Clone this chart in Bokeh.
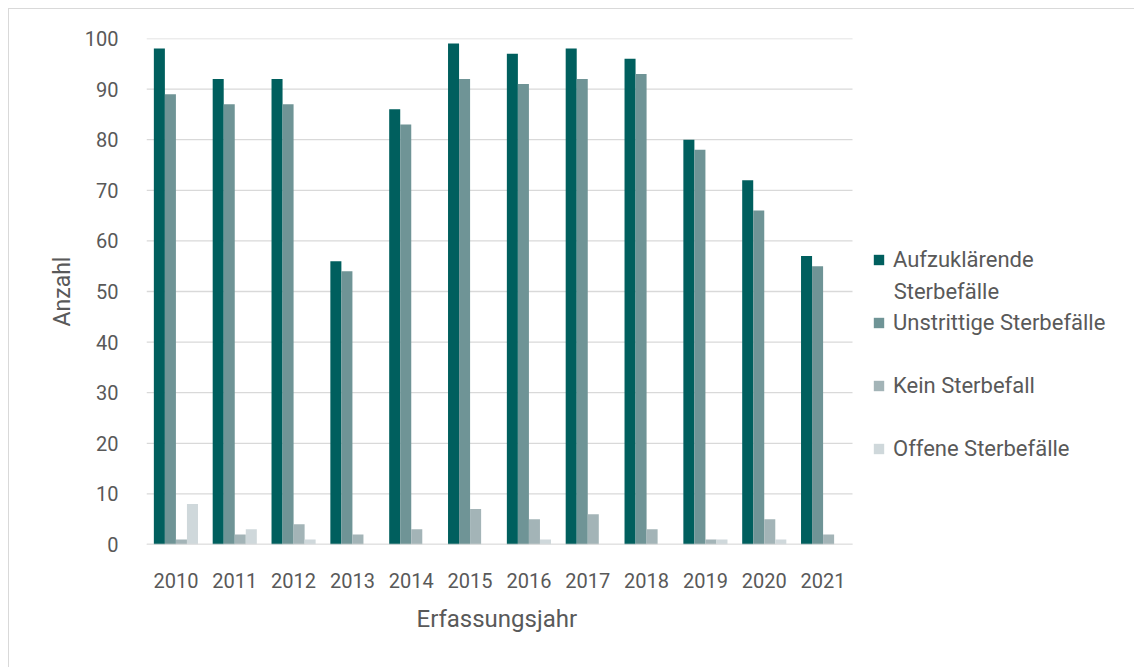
from bokeh.plotting import figure
from bokeh.models import ColumnDataSource, Range1d, Legend, LegendItem, Label, InlineStyleSheet, FixedTicker, Title
from bokeh.transform import dodge
from bokeh.embed import file_html
from bokeh.resources import INLINE

years = ["2010", "2011", "2012", "2013", "2014", "2015", "2016", "2017", "2018", "2019", "2020", "2021"]
aufzuklaerende = [98, 92, 92, 56, 86, 99, 97, 98, 96, 80, 72, 57]
unstrittige = [89, 87, 87, 54, 83, 92, 91, 92, 93, 78, 66, 55]
kein = [1, 2, 4, 2, 3, 7, 5, 6, 3, 1, 5, 2]
offene = [8, 3, 1, 0, 0, 0, 1, 0, 0, 1, 1, 0]
series_labels = ["Aufzuklärende Sterbefälle", "Unstrittige Sterbefälle", "Kein Sterbefall", "Offene Sterbefälle"]
colors = ["#005F5E", "#6F9496", "#A3B4B7", "#CFD8DB"]
yticks = list(range(0, 101, 10))

FONT = "Roboto"
TXT = "#595959"
GRID = "#d9d9d9"

n = len(years)
centers = [i + 0.5 for i in range(n)]
source = ColumnDataSource(data=dict(xc=centers, a=aufzuklaerende, u=unstrittige, k=kein, o=offene))

p = figure(x_range=Range1d(0, 16.81), y_range=Range1d(0, 100),
           width=1126, height=659, output_backend="svg", toolbar_location=None,
           min_border_left=137, min_border_right=0, min_border_top=29, min_border_bottom=124)
p.stylesheets = [InlineStyleSheet(css=":host { margin-left: 8px; margin-top: 8px; border-left: 1px solid #d9d9d9; border-top: 1px solid #d9d9d9; }")]
p.outline_line_color = None
p.background_fill_color = "white"
p.border_fill_color = "white"

# gridlines only across the category area
p.xgrid.grid_line_color = None
p.ygrid.grid_line_color = None
p.segment(x0=[0] * len(yticks), x1=[n] * len(yticks), y0=yticks, y1=yticks,
          line_color=GRID, line_width=1.3)

bw = 0.1875
offs = [-1.5 * bw, -0.5 * bw, 0.5 * bw, 1.5 * bw]
renderers = []
for col, off, c in zip(["a", "u", "k", "o"], offs, colors):
    r = p.vbar(x=dodge("xc", off), top=col, width=bw, source=source,
               fill_color=c, line_color=None)
    renderers.append(r)

p.segment(x0=[0], x1=[n], y0=[0], y1=[0], line_color=GRID, line_width=1.6)

p.xaxis.ticker = FixedTicker(ticks=centers)
p.xaxis.major_label_overrides = {c: y for c, y in zip(centers, years)}
p.yaxis.ticker = FixedTicker(ticks=yticks)

for ax in (p.xaxis[0], p.yaxis[0]):
    ax.axis_line_color = None
    ax.major_tick_line_color = None
    ax.minor_tick_line_color = None
    ax.major_label_text_font = FONT
    ax.major_label_text_font_size = "20px"
    ax.major_label_text_color = TXT
    ax.axis_label_text_font = FONT
    ax.axis_label_text_font_size = "23px"
    ax.axis_label_text_color = TXT
    ax.axis_label_text_font_style = "normal"

p.yaxis.major_label_standoff = 22
p.yaxis.axis_label = "Anzahl"
p.yaxis.axis_label_standoff = 6
p.xaxis.major_label_standoff = 22

xtitle = Title(text="Erfassungsjahr", align="left", offset=270, standoff=25,
               text_font=FONT, text_font_size="24px", text_color=TXT, text_font_style="normal")
p.add_layout(xtitle, "below")

items = [LegendItem(label="Aufzuklärende", renderers=[renderers[0]])]
for lab, r in zip(series_labels[1:], renderers[1:]):
    items.append(LegendItem(label=lab, renderers=[r]))
legend = Legend(items=items, location=(726, 83), orientation="vertical",
                padding=0, margin=0, spacing=37, label_height=26,
                glyph_width=13, glyph_height=13, label_standoff=8,
                border_line_color=None, background_fill_alpha=0,
                label_text_font=FONT, label_text_font_size="22px", label_text_color=TXT)
p.add_layout(legend, "center")

second_line = Label(x=12.70, y=50, text="Sterbefälle", text_font=FONT, text_font_size="22px",
                    text_color=TXT, text_baseline="middle", text_align="left")
p.add_layout(second_line)

open("out.html", "w").write(file_html(p, INLINE))
